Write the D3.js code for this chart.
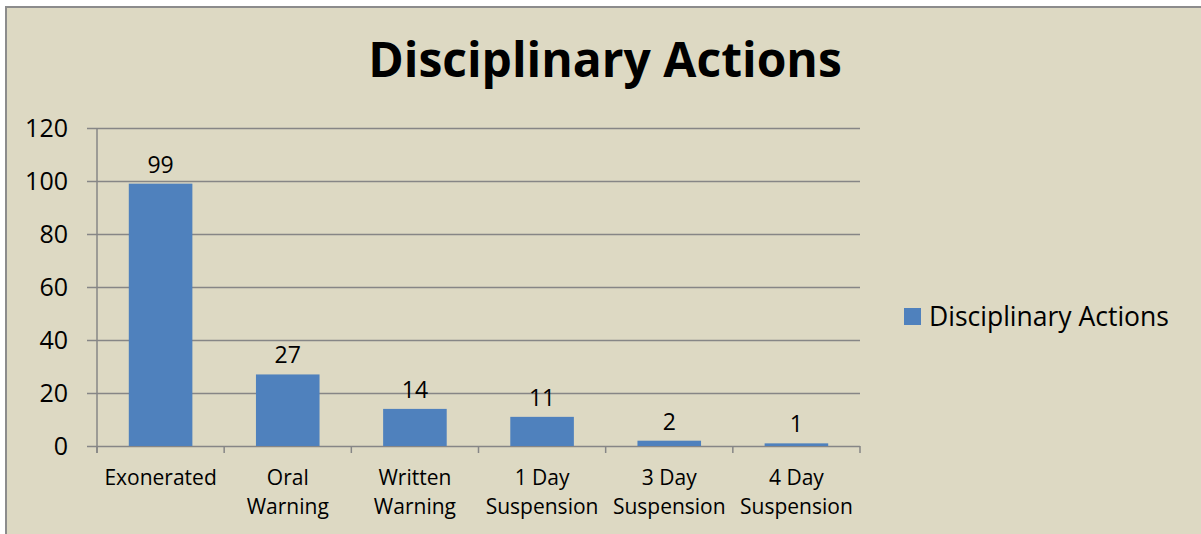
<!DOCTYPE html>
<html>
<head>
<meta charset="utf-8">
<script src="https://cdn.jsdelivr.net/npm/d3@7"></script>
<style>
  html, body { margin: 0; padding: 0; background: #fff; }
  svg { display: block; font-family: "Open Sans", sans-serif; }
</style>
</head>
<body>
<div id="vis"></div>
<script>
// chart values
var categories = ['Exonerated', 'Oral Warning', 'Written Warning', '1 Day Suspension', '3 Day Suspension', '4 Day Suspension'];
var counts = [99, 27, 14, 11, 2, 1];
var yTicks = [0, 20, 40, 60, 80, 100, 120];
var seriesName = 'Disciplinary Actions';

var width = 1201;
var height = 534;
var margin = { top: 128, left: 97, right: 341, bottom: 88 };

var svg = d3.select('#vis')
    .append('svg')
    .attr('width', width)
    .attr('height', height);

// chart area with border
svg.append('rect')
    .attr('x', 6)
    .attr('y', 7)
    .attr('width', width + 10)
    .attr('height', height + 10)
    .attr('fill', '#ddd9c3')
    .attr('stroke', '#8c8c8c')
    .attr('stroke-width', 2);

svg.append('text')
    .attr('x', 605)
    .attr('y', 77)
    .attr('text-anchor', 'middle')
    .attr('font-size', 48)
    .attr('font-weight', 'bold')
    .text(seriesName);

var x = d3.scaleBand()
    .domain(categories)
    .range([margin.left, width - margin.right])
    .paddingInner(0.5)
    .paddingOuter(0.25);

var y = d3.scaleLinear()
    .domain([0, 120])
    .range([height - margin.bottom, margin.top]);

// gridlines
svg.append('g')
    .selectAll('line')
    .data(yTicks)
    .enter().append('line')
    .attr('x1', margin.left - 10)
    .attr('x2', width - margin.right)
    .attr('y1', d => y(d) + 0.5)
    .attr('y2', d => y(d) + 0.5)
    .attr('stroke', '#868686')
    .attr('stroke-width', 1.5);

// y tick labels
svg.append('g')
    .selectAll('text')
    .data(yTicks)
    .enter().append('text')
    .attr('x', 68)
    .attr('y', d => y(d))
    .attr('dy', '0.36em')
    .attr('text-anchor', 'end')
    .attr('font-size', 25)
    .text(d => d);

// y axis line
svg.append('line')
    .attr('x1', margin.left)
    .attr('x2', margin.left)
    .attr('y1', y(120))
    .attr('y2', y(0) + 7)
    .attr('stroke', '#868686')
    .attr('stroke-width', 1.5);

// category tick marks
var step = x.step();
var tickXs = d3.range(categories.length + 1).map(i => margin.left + i * step);
svg.append('g')
    .selectAll('line')
    .data(tickXs)
    .enter().append('line')
    .attr('x1', d => d)
    .attr('x2', d => d)
    .attr('y1', y(0))
    .attr('y2', y(0) + 7)
    .attr('stroke', '#868686')
    .attr('stroke-width', 1.5);

// bars
svg.append('g')
    .selectAll('rect')
    .data(counts)
    .enter().append('rect')
    .attr('x', (d, i) => x(categories[i]))
    .attr('y', d => y(d))
    .attr('width', x.bandwidth())
    .attr('height', d => y(0) - y(d))
    .attr('fill', '#4f81bd');

// data labels
svg.append('g')
    .selectAll('text')
    .data(counts)
    .enter().append('text')
    .attr('x', (d, i) => x(categories[i]) + x.bandwidth() / 2)
    .attr('y', d => y(d) - 11)
    .attr('text-anchor', 'middle')
    .attr('font-size', 23)
    .text(d => d);

// category labels (two lines like Excel wraps them)
var catLabels = svg.append('g')
    .selectAll('text')
    .data(categories)
    .enter().append('text')
    .attr('x', d => x(d) + x.bandwidth() / 2)
    .attr('y', 485)
    .attr('text-anchor', 'middle')
    .attr('font-size', 21);

catLabels.each(function (d) {
    var parts = d.indexOf(' ') > 0 ? [d.slice(0, d.indexOf(' ')), d.slice(d.indexOf(' ') + 1)] : [d];
    if (d.indexOf('Suspension') > 0) parts = [d.replace(' Suspension', ''), 'Suspension'];
    var t = d3.select(this);
    parts.forEach(function (p, i) {
        t.append('tspan')
            .attr('x', t.attr('x'))
            .attr('dy', i === 0 ? 0 : 29)
            .text(p);
    });
});

// legend
var legend = svg.append('g').attr('transform', 'translate(904, 308)');
legend.append('rect')
    .attr('width', 17)
    .attr('height', 17)
    .attr('fill', '#4f81bd');
legend.append('text')
    .attr('x', 25)
    .attr('y', 8.5)
    .attr('dy', '0.36em')
    .attr('font-size', 26.5)
    .text(seriesName);
</script>
</body>
</html>
